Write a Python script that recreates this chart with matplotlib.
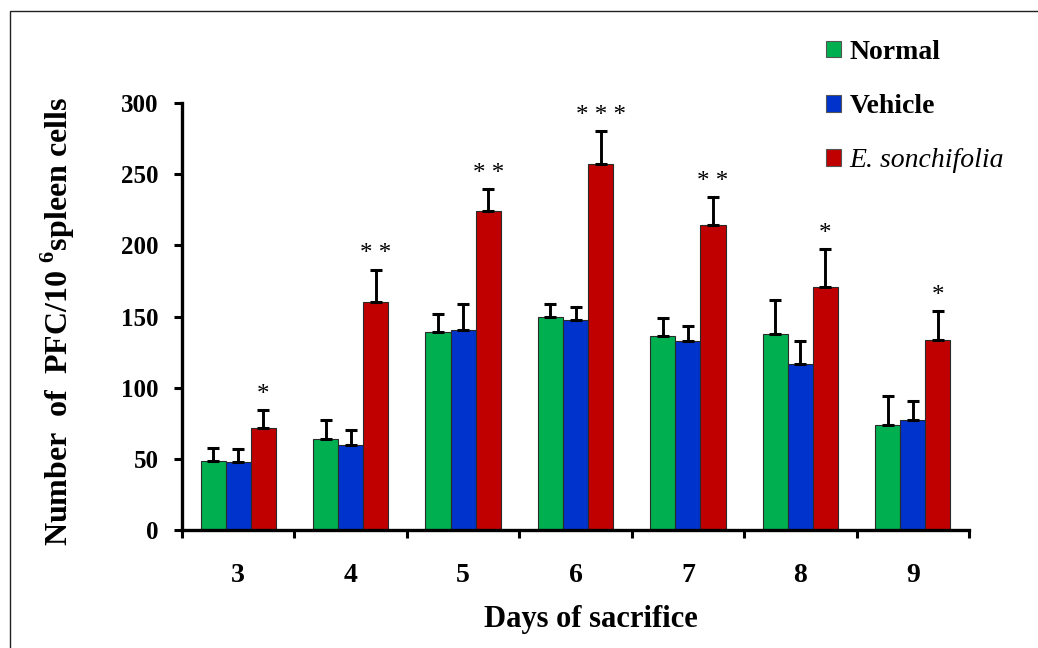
import numpy as np
import matplotlib
matplotlib.use("Agg")
import matplotlib.pyplot as plt
from matplotlib.patches import Rectangle

# data
days = ["3", "4", "5", "6", "7", "8", "9"]
normal = [48.5, 64, 139, 149.4, 136.3, 137.7, 74]
normal_err = [9.3, 13, 13, 9.2, 12.9, 23.9, 20.4]
vehicle = [47.5, 59.7, 140.5, 147.5, 133, 116.4, 77.5]
vehicle_err = [9.5, 10.3, 18.5, 9.5, 10.3, 16.4, 13.3]
sonchifolia = [72, 160.4, 224, 257, 214.5, 170.7, 133.3]
sonchifolia_err = [12, 22.6, 15.4, 23.3, 19.5, 26.7, 20.7]
stars = ["*", "* *", "* *", "* * *", "* *", "*", "*"]
series_names = ["Normal", "Vehicle", "E. sonchifolia"]
colors = ["#00B050", "#0033CC", "#C00000"]

plt.rcParams["font.family"] = "Liberation Serif"
plt.rcParams["font.weight"] = "bold"
plt.rcParams["mathtext.fontset"] = "custom"
plt.rcParams["mathtext.rm"] = "Liberation Serif"
plt.rcParams["mathtext.bf"] = "Liberation Serif:bold"

fig = plt.figure(figsize=(10.38, 6.48), dpi=100)
ax = fig.add_axes([182 / 1038, 1 - 530 / 648, (969 - 182) / 1038, (530 - 103) / 648])

x = np.arange(len(days)) + 0.5
w = 0.223
all_means = [normal, vehicle, sonchifolia]
all_errs = [normal_err, vehicle_err, sonchifolia_err]
handles = []
for k in range(3):
    pos = x + (k - 1) * w
    b = ax.bar(pos, all_means[k], width=w, color=colors[k], edgecolor="#2a2a2a",
               linewidth=0.8, zorder=2, label=series_names[k])
    handles.append(b)
    ax.errorbar(pos, all_means[k], yerr=[np.zeros(len(days)), all_errs[k]],
                fmt="none", ecolor="black", elinewidth=2.1, capsize=4,
                capthick=2.2, zorder=3)

# significance marks above the E. sonchifolia bars
for i in range(len(days)):
    top = sonchifolia[i] + sonchifolia_err[i]
    ax.text(x[i] + w, top + 3, stars[i], ha="center", va="bottom",
            fontsize=18, fontweight="normal")

ax.set_xlim(0, len(days))
ax.set_ylim(0, 300)
ax.set_yticks(np.arange(0, 301, 50))
ax.set_xticks(np.arange(0, len(days) + 1))
ax.set_xticklabels([])
ax.set_xticks(x, minor=True)
ax.set_xticklabels(days, minor=True)
ax.tick_params(axis="x", which="minor", length=0, pad=24, labelsize=20)
ax.tick_params(axis="x", which="major", length=6, width=2.2, direction="out")
ax.tick_params(axis="y", length=6, width=2.2, direction="out", pad=11, labelsize=18)

for s in ["top", "right"]:
    ax.spines[s].set_visible(False)
for s in ["left", "bottom"]:
    ax.spines[s].set_linewidth(2.4)

fig.text(591 / 1038, 1 - 620 / 648, "Days of sacrifice", ha="center", va="center",
         fontsize=22, fontweight="bold")
fig.text(58 / 1038, 1 - 321 / 648, r"Number  of  PFC/10 $^{\mathbf{6}}$spleen cells",
         ha="center", va="center", rotation=90, fontsize=23, fontweight="bold")

leg = fig.legend(handles=handles, labels=series_names, loc="upper left",
                 bbox_to_anchor=(812 / 1038, 1 - 26 / 648), frameon=False,
                 handlelength=0.55, handleheight=0.55, handletextpad=0.3,
                 labelspacing=1.05, borderpad=0, fontsize=20)
for patch in leg.get_patches():
    patch.set_edgecolor("#555555")
texts = leg.get_texts()
texts[0].set_fontweight("bold")
texts[1].set_fontweight("bold")
texts[2].set_fontweight("normal")
texts[2].set_fontstyle("italic")

# thin frame around the picture
fig.add_artist(Rectangle((10 / 1038, -0.1), 1.2, 1 - 11 / 648 + 0.1,
                         transform=fig.transFigure, fill=False,
                         linewidth=1, edgecolor="#222222"))

fig.savefig("out.png", dpi=100)
